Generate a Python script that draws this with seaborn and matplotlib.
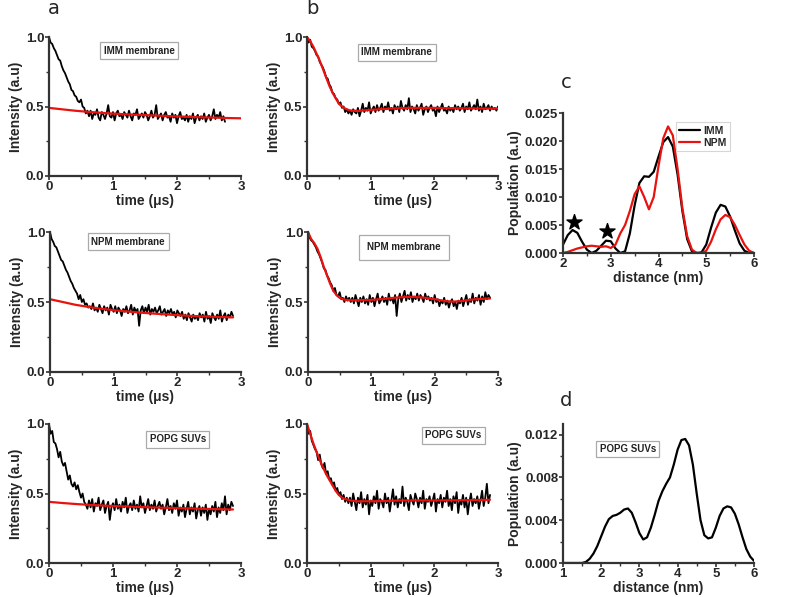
import numpy as np
import pandas as pd
import matplotlib
matplotlib.use("Agg")
import matplotlib.pyplot as plt
from matplotlib.ticker import MultipleLocator
import seaborn as sns

# time grid of the raw traces (us)
t_step = 0.025

# ---- raw DEER traces (black) ----
imm_a = [1.00, 0.96, 0.95, 0.92, 0.90, 0.87, 0.84, 0.83, 0.79, 0.76, 0.74, 0.71, 0.68, 0.66, 0.62,
         0.61, 0.58, 0.57, 0.54, 0.53, 0.55, 0.50, 0.49, 0.45, 0.47,
         0.43, 0.47, 0.41, 0.45, 0.44, 0.48, 0.42, 0.40, 0.46, 0.44,
         0.41, 0.45, 0.51, 0.43, 0.42, 0.46, 0.40, 0.45, 0.47, 0.43,
         0.44, 0.41, 0.46, 0.44, 0.42, 0.47, 0.43, 0.40, 0.45, 0.44,
         0.48, 0.41, 0.43, 0.45, 0.42, 0.46, 0.44, 0.40, 0.43, 0.47,
         0.42, 0.44, 0.51, 0.41, 0.43, 0.45, 0.40, 0.44, 0.46, 0.42,
         0.43, 0.39, 0.45, 0.42, 0.44, 0.38, 0.43, 0.46, 0.41, 0.42,
         0.40, 0.44, 0.39, 0.43, 0.41, 0.45, 0.38, 0.42, 0.44, 0.40,
         0.43, 0.41, 0.45, 0.39, 0.42, 0.44, 0.40, 0.43, 0.48, 0.41,
         0.44, 0.42, 0.46, 0.40, 0.43, 0.39]
imm_b = [1.00, 0.96, 0.98, 0.93, 0.92, 0.90, 0.87, 0.86, 0.82, 0.80, 0.78, 0.75, 0.71, 0.70, 0.66,
         0.64, 0.60, 0.59, 0.56, 0.55, 0.52, 0.53, 0.49, 0.50, 0.46, 0.48, 0.45, 0.47,
         0.44, 0.48, 0.46, 0.45, 0.49, 0.43, 0.47, 0.52, 0.46, 0.49,
         0.47, 0.53, 0.45, 0.48, 0.50, 0.46, 0.51, 0.47, 0.49, 0.52,
         0.46, 0.50, 0.48, 0.53, 0.47, 0.49, 0.45, 0.51, 0.48, 0.50,
         0.46, 0.54, 0.49, 0.47, 0.51, 0.48, 0.56, 0.46, 0.50, 0.48,
         0.45, 0.51, 0.47, 0.49, 0.52, 0.44, 0.48, 0.50, 0.46, 0.49,
         0.51, 0.47, 0.48, 0.43, 0.50, 0.46, 0.49, 0.52, 0.47, 0.48,
         0.45, 0.50, 0.47, 0.49, 0.46, 0.51, 0.48, 0.50, 0.47, 0.49,
         0.52, 0.46, 0.50, 0.48, 0.53, 0.47, 0.49, 0.51, 0.48, 0.55,
         0.47, 0.50, 0.46, 0.52, 0.48, 0.49, 0.51, 0.47, 0.50, 0.48,
         0.49, 0.47, 0.50]
npm_a = [1.00, 0.95, 0.93, 0.90, 0.89, 0.86, 0.83, 0.80, 0.79, 0.76, 0.73, 0.71, 0.68, 0.65, 0.63,
         0.60, 0.58, 0.56, 0.52, 0.55, 0.50, 0.52, 0.48, 0.49, 0.46,
         0.47, 0.45, 0.49, 0.44, 0.46, 0.43, 0.48, 0.45, 0.42, 0.47,
         0.44, 0.46, 0.41, 0.48, 0.45, 0.43, 0.47, 0.42, 0.46, 0.44,
         0.40, 0.45, 0.43, 0.47, 0.42, 0.44, 0.48, 0.41, 0.46, 0.43,
         0.45, 0.33, 0.44, 0.47, 0.42, 0.46, 0.43, 0.48, 0.41, 0.45,
         0.43, 0.46, 0.42, 0.44, 0.47, 0.41, 0.43, 0.45, 0.40, 0.44,
         0.42, 0.45, 0.41, 0.43, 0.39, 0.44, 0.42, 0.40, 0.43, 0.38,
         0.41, 0.37, 0.42, 0.39, 0.36, 0.41, 0.38, 0.40, 0.37, 0.42,
         0.39, 0.41, 0.36, 0.43, 0.38, 0.40, 0.35, 0.42, 0.39, 0.37,
         0.41, 0.38, 0.44, 0.36, 0.40, 0.42, 0.37, 0.41, 0.39, 0.43,
         0.40]
npm_b = [1.00, 0.96, 0.94, 0.93, 0.91, 0.89, 0.86, 0.84, 0.81, 0.78, 0.74, 0.73, 0.69, 0.67, 0.64,
         0.62, 0.58, 0.60, 0.55, 0.54, 0.57, 0.52, 0.53, 0.50, 0.54, 0.51, 0.53,
         0.50, 0.53, 0.49, 0.55, 0.51, 0.47, 0.53, 0.50, 0.54, 0.49,
         0.52, 0.48, 0.55, 0.50, 0.53, 0.47, 0.52, 0.56, 0.49, 0.51,
         0.54, 0.50, 0.53, 0.48, 0.56, 0.51, 0.53, 0.49, 0.55, 0.40,
         0.52, 0.56, 0.50, 0.54, 0.58, 0.51, 0.55, 0.52, 0.57, 0.50,
         0.54, 0.52, 0.56, 0.51, 0.55, 0.53, 0.50, 0.56, 0.52, 0.54,
         0.51, 0.53, 0.49, 0.55, 0.50, 0.52, 0.47, 0.51, 0.49, 0.53,
         0.48, 0.51, 0.46, 0.50, 0.52, 0.47, 0.50, 0.45, 0.51, 0.49,
         0.53, 0.47, 0.51, 0.55, 0.48, 0.52, 0.50, 0.56, 0.49, 0.53,
         0.51, 0.55, 0.48, 0.54, 0.50, 0.57, 0.52, 0.55, 0.53]
popg_a = [1.00, 0.93, 0.95, 0.87, 0.86, 0.82, 0.76, 0.80, 0.73, 0.70, 0.72, 0.66, 0.60, 0.63, 0.57,
          0.55, 0.58, 0.53, 0.56, 0.51, 0.47, 0.50, 0.44,
          0.42, 0.39, 0.45, 0.40, 0.46, 0.37, 0.43, 0.41, 0.47, 0.38,
          0.42, 0.45, 0.36, 0.41, 0.44, 0.31, 0.40, 0.43, 0.38, 0.46,
          0.39, 0.42, 0.37, 0.44, 0.40, 0.47, 0.36, 0.41, 0.43, 0.38,
          0.45, 0.39, 0.42, 0.37, 0.48, 0.40, 0.43, 0.36, 0.41, 0.46,
          0.38, 0.42, 0.39, 0.45, 0.37, 0.41, 0.44, 0.39, 0.42, 0.35,
          0.40, 0.46, 0.38, 0.41, 0.36, 0.43, 0.39, 0.45, 0.34, 0.40,
          0.37, 0.42, 0.33, 0.39, 0.44, 0.35, 0.40, 0.37, 0.43, 0.32,
          0.38, 0.41, 0.34, 0.40, 0.36, 0.42, 0.31, 0.39, 0.35, 0.41,
          0.37, 0.44, 0.33, 0.40, 0.36, 0.43, 0.38, 0.48, 0.35, 0.42,
          0.38, 0.44, 0.41]
popg_b = [1.00, 0.93, 0.95, 0.88, 0.85, 0.82, 0.80, 0.74, 0.78, 0.71, 0.68, 0.72, 0.64, 0.66, 0.60,
          0.61, 0.56, 0.58, 0.52, 0.54, 0.49, 0.51, 0.46, 0.49, 0.44, 0.47, 0.43,
          0.47, 0.41, 0.50, 0.44, 0.38, 0.47, 0.43, 0.51, 0.40, 0.46,
          0.42, 0.49, 0.35, 0.45, 0.41, 0.48, 0.43, 0.52, 0.39, 0.46,
          0.44, 0.40, 0.50, 0.43, 0.47, 0.37, 0.45, 0.53, 0.42, 0.48,
          0.40, 0.46, 0.43, 0.55, 0.41, 0.47, 0.44, 0.38, 0.49, 0.45,
          0.42, 0.50, 0.46, 0.40, 0.47, 0.43, 0.52, 0.39, 0.46, 0.44,
          0.48, 0.41, 0.45, 0.50, 0.37, 0.46, 0.43, 0.49, 0.40, 0.47,
          0.44, 0.52, 0.41, 0.46, 0.38, 0.48, 0.43, 0.51, 0.36, 0.45,
          0.42, 0.49, 0.40, 0.47, 0.35, 0.44, 0.50, 0.41, 0.46, 0.43,
          0.48, 0.39, 0.45, 0.52, 0.41, 0.47, 0.57, 0.43, 0.49]

# ---- fits (red) ----
fit_imm_a_t = [0, 0.2, 0.4, 0.6, 0.8, 1.0, 1.2, 1.4, 1.6, 1.8, 2.0, 2.2, 2.4, 2.6, 2.8, 3.0]
fit_imm_a = [0.49, 0.48, 0.47, 0.462, 0.455, 0.449, 0.444, 0.440, 0.436, 0.432, 0.429,
             0.425, 0.422, 0.420, 0.417, 0.415]
fit_imm_b_t = [0, 0.05, 0.1, 0.15, 0.2, 0.25, 0.3, 0.35, 0.4, 0.45, 0.5, 0.55, 0.6, 0.65, 0.7,
               0.8, 0.9, 1.0, 1.2, 1.4, 1.6, 1.8, 2.0, 2.2, 2.4, 2.6, 2.8, 3.0]
fit_imm_b = [1.00, 0.97, 0.93, 0.88, 0.83, 0.77, 0.71, 0.65, 0.60, 0.56, 0.52, 0.50, 0.485, 0.475,
             0.47, 0.468, 0.472, 0.476, 0.482, 0.487, 0.49, 0.49, 0.49, 0.488, 0.487, 0.486,
             0.485, 0.485]
fit_npm_a_t = [0, 0.2, 0.4, 0.6, 0.8, 1.0, 1.2, 1.4, 1.6, 1.8, 2.0, 2.2, 2.4, 2.6, 2.875]
fit_npm_a = [0.52, 0.50, 0.48, 0.465, 0.452, 0.442, 0.433, 0.425, 0.418, 0.412, 0.406, 0.401,
             0.397, 0.394, 0.39]
fit_npm_b_t = [0, 0.05, 0.1, 0.15, 0.2, 0.25, 0.3, 0.35, 0.4, 0.45, 0.5, 0.55, 0.6, 0.7, 0.8,
               1.0, 1.2, 1.4, 1.6, 1.8, 2.0, 2.1, 2.2, 2.3, 2.4, 2.5, 2.6, 2.7, 2.875]
fit_npm_b = [1.00, 0.95, 0.92, 0.88, 0.82, 0.75, 0.69, 0.63, 0.58, 0.55, 0.53, 0.52, 0.515, 0.512,
             0.513, 0.515, 0.522, 0.532, 0.537, 0.533, 0.52, 0.512, 0.505, 0.503, 0.506, 0.512,
             0.518, 0.521, 0.525]
fit_popg_a_t = [0, 0.2, 0.4, 0.6, 0.8, 1.0, 1.3, 1.6, 2.0, 2.4, 2.875]
fit_popg_a = [0.44, 0.432, 0.425, 0.419, 0.414, 0.41, 0.405, 0.40, 0.395, 0.39, 0.385]
fit_popg_b_t = [0, 0.05, 0.1, 0.15, 0.2, 0.25, 0.3, 0.35, 0.4, 0.45, 0.5, 0.55, 0.6, 0.7, 0.8,
                1.0, 1.2, 1.5, 2.0, 2.5, 2.875]
fit_popg_b = [1.00, 0.93, 0.86, 0.80, 0.74, 0.69, 0.64, 0.60, 0.56, 0.52, 0.49, 0.47, 0.46, 0.448,
              0.444, 0.444, 0.446, 0.45, 0.45, 0.452, 0.455]

# ---- distance distributions ----
dist_c = [2.0, 2.1, 2.2, 2.3, 2.4, 2.5, 2.6, 2.7, 2.8, 2.9, 3.0, 3.1, 3.2, 3.3, 3.4, 3.5, 3.6, 3.7,
          3.8, 3.9, 4.0, 4.1, 4.2, 4.3, 4.4, 4.5, 4.6, 4.7, 4.8, 4.9, 5.0, 5.1, 5.2, 5.3, 5.4, 5.5,
          5.6, 5.7, 5.8, 5.9, 6.0]
pop_imm = [0.0015, 0.0032, 0.0041, 0.0036, 0.0020, 0.0006, 0.0000, 0.0004, 0.0013, 0.0022, 0.0021,
           0.0008, 0.0000, 0.0003, 0.0035, 0.0085, 0.0125, 0.0137, 0.0136, 0.0145, 0.0172, 0.0198,
           0.0207, 0.0190, 0.0140, 0.0075, 0.0025, 0.0003, 0.0000, 0.0001, 0.0015, 0.0045, 0.0072,
           0.0086, 0.0083, 0.0065, 0.0040, 0.0017, 0.0004, 0.0000, 0.0000]
pop_npm = [0.0000, 0.0002, 0.0005, 0.0008, 0.0010, 0.0012, 0.0013, 0.0012, 0.0011, 0.0012, 0.0009,
           0.0015, 0.0035, 0.0050, 0.0075, 0.0105, 0.0119, 0.0100, 0.0078, 0.0100, 0.0155, 0.0205,
           0.0226, 0.0210, 0.0150, 0.0080, 0.0030, 0.0006, 0.0000, 0.0000, 0.0004, 0.0020, 0.0042,
           0.0060, 0.0068, 0.0064, 0.0050, 0.0032, 0.0015, 0.0004, 0.0000]
star_x = [2.22, 2.93]
star_y = [0.0055, 0.0039]

dist_d = [1.0, 1.1, 1.2, 1.3, 1.4, 1.5, 1.6, 1.7, 1.8, 1.9, 2.0, 2.1, 2.2, 2.3, 2.4, 2.5, 2.6, 2.7,
          2.8, 2.9, 3.0, 3.1, 3.2, 3.3, 3.4, 3.5, 3.6, 3.7, 3.8, 3.9, 4.0, 4.1, 4.2, 4.3, 4.4, 4.5,
          4.6, 4.7, 4.8, 4.9, 5.0, 5.1, 5.2, 5.3, 5.4, 5.5, 5.6, 5.7, 5.8, 5.9, 6.0]
pop_popg = [0, 0, 0, 0, 0, 0, 0.0001, 0.0004, 0.0009, 0.0016, 0.0025, 0.0034, 0.0041, 0.0044,
            0.0045, 0.0047, 0.0050, 0.0051, 0.0047, 0.0038, 0.0028, 0.0022, 0.0024, 0.0033, 0.0045,
            0.0058, 0.0067, 0.0074, 0.0080, 0.0092, 0.0106, 0.0115, 0.0116, 0.0110, 0.0092, 0.0065,
            0.0040, 0.0026, 0.0023, 0.0024, 0.0033, 0.0044, 0.0051, 0.0053, 0.0052, 0.0046, 0.0036,
            0.0024, 0.0013, 0.0006, 0.0002]

sns.set_theme(style="ticks")
plt.rcParams['font.family'] = ['Liberation Sans', 'DejaVu Sans']
plt.rcParams['font.weight'] = 'bold'
plt.rcParams['axes.labelweight'] = 'bold'

W, H = 793, 597
fig = plt.figure(figsize=(W / 100, H / 100), dpi=100)


def add_ax(x0, x1, y0, y1):
    # pixel box -> figure fraction
    return fig.add_axes([x0 / W, 1 - y1 / H, (x1 - x0) / W, (y1 - y0) / H])


def style_ax(ax):
    sns.despine(ax=ax)
    for s in ['left', 'bottom']:
        ax.spines[s].set_color('#333333')
        ax.spines[s].set_linewidth(1.6)
    ax.tick_params(which='major', direction='out', length=3, width=1.2, color='#333333',
                   labelsize=9.5, pad=0.5)
    ax.tick_params(which='minor', direction='out', length=2, width=1.0, color='#333333')
    for lab in ax.get_xticklabels() + ax.get_yticklabels():
        lab.set_fontweight('bold')


def label_box(ax, fx, fy, txt, pad=0.35):
    ax.text(fx, fy, txt, transform=ax.transAxes, ha='center', va='center', fontsize=7,
            fontweight='bold', color='#222222',
            bbox=dict(boxstyle=f'square,pad={pad}', fc='white', ec='#aaaaaa', lw=0.9))


def trace_panel(ax, raw, fit_t, fit_v, txt, fx, fy, pad=0.35):
    df = pd.DataFrame({'t': np.arange(len(raw)) * t_step, 'v': raw})
    sns.lineplot(data=df, x='t', y='v', ax=ax, color='black', lw=1.3)
    sns.lineplot(x=fit_t, y=fit_v, ax=ax, color='#e8120f', lw=1.6)
    ax.set_xlim(0, 3)
    ax.set_ylim(0, 1.0)
    ax.set_xticks([0, 1, 2, 3])
    ax.set_yticks([0.0, 0.5, 1.0])
    ax.xaxis.set_minor_locator(MultipleLocator(0.5))
    ax.yaxis.set_minor_locator(MultipleLocator(0.25))
    ax.set_xlabel('time (\u03bcs)', fontsize=10, labelpad=0.5)
    ax.set_ylabel('Intensity (a.u)', fontsize=10, labelpad=2)
    style_ax(ax)
    label_box(ax, fx, fy, txt, pad)


ax = add_ax(49, 241, 37, 176)
trace_panel(ax, imm_a, fit_imm_a_t, fit_imm_a, 'IMM membrane', 0.47, 0.90)
ax = add_ax(307, 498, 37, 176)
trace_panel(ax, imm_b, fit_imm_b_t, fit_imm_b, 'IMM membrane', 0.47, 0.89)
ax = add_ax(50, 241, 232, 372)
trace_panel(ax, npm_a, fit_npm_a_t, fit_npm_a, 'NPM membrane', 0.41, 0.93)
ax = add_ax(308, 498, 232, 372)
trace_panel(ax, npm_b, fit_npm_b_t, fit_npm_b, 'NPM membrane', 0.505, 0.89, pad=0.8)
ax = add_ax(49, 241, 424, 563)
trace_panel(ax, popg_a, fit_popg_a_t, fit_popg_a, 'POPG SUVs', 0.67, 0.89)
ax = add_ax(307, 498, 424, 563)
trace_panel(ax, popg_b, fit_popg_b_t, fit_popg_b, 'POPG SUVs', 0.765, 0.92)

# panel c
axc = add_ax(563, 754, 113, 253)
sns.lineplot(x=dist_c, y=pop_imm, ax=axc, color='black', lw=1.6, label='IMM')
sns.lineplot(x=dist_c, y=pop_npm, ax=axc, color='#e8120f', lw=1.6, label='NPM')
axc.scatter(star_x, star_y, marker='*', s=130, color='black', zorder=5)
axc.set_xlim(2, 6)
axc.set_ylim(0, 0.025)
axc.set_xticks([2, 3, 4, 5, 6])
axc.set_yticks([0.0, 0.005, 0.010, 0.015, 0.020, 0.025])
axc.set_yticklabels(['0.000', '0.005', '0.010', '0.015', '0.020', '0.025'])
axc.xaxis.set_minor_locator(MultipleLocator(0.5))
axc.set_xlabel('distance (nm)', fontsize=10, labelpad=0.5)
axc.set_ylabel('Population (a.u)', fontsize=10, labelpad=2)
style_ax(axc)
leg = axc.legend(loc='upper right', bbox_to_anchor=(0.9, 0.97), fontsize=7.5, frameon=True,
                 fancybox=False, handlelength=2.0, borderpad=0.3, labelspacing=0.2,
                 handletextpad=0.3)
leg.get_frame().set_edgecolor('#cccccc')
leg.get_frame().set_linewidth(0.8)

# panel d
axd = add_ax(563, 754, 424, 563)
sns.lineplot(x=dist_d, y=pop_popg, ax=axd, color='black', lw=1.6)
axd.set_xlim(1, 6)
axd.set_ylim(0, 0.013)
axd.set_xticks([1, 2, 3, 4, 5, 6])
axd.set_yticks([0.0, 0.004, 0.008, 0.012])
axd.set_yticklabels(['0.000', '0.004', '0.008', '0.012'])
axd.xaxis.set_minor_locator(MultipleLocator(0.5))
axd.yaxis.set_minor_locator(MultipleLocator(0.002))
axd.set_xlabel('distance (nm)', fontsize=10, labelpad=0.5)
axd.set_ylabel('Population (a.u)', fontsize=10, labelpad=2)
style_ax(axd)
label_box(axd, 0.34, 0.82, 'POPG SUVs')

# panel letters
for x, y, s in [(54, 8, 'a'), (312, 8, 'b'), (566, 83, 'c'), (566, 401, 'd')]:
    fig.text(x / W, 1 - y / H, s, ha='center', va='center', fontsize=14,
             fontweight='normal', family='DejaVu Sans')

fig.savefig('out.png', dpi=100, facecolor='white')
